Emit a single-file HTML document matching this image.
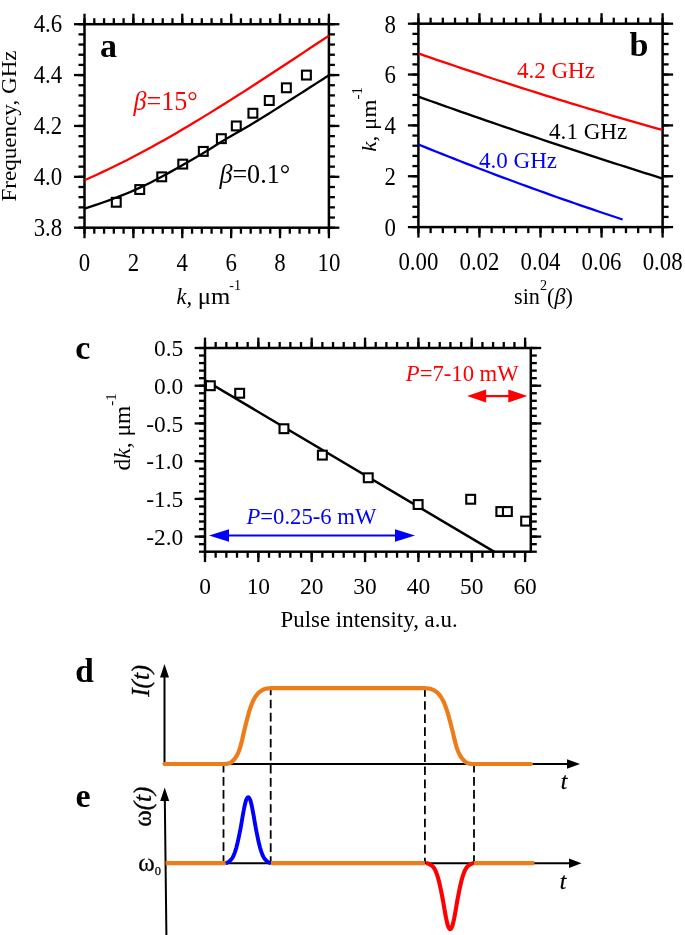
<!DOCTYPE html>
<html><head><meta charset="utf-8"><title>Figure</title>
<style>
html,body{margin:0;padding:0;background:#fff;}
body{width:685px;height:935px;overflow:hidden;font-family:"Liberation Serif",serif;}
svg{display:block;font-family:"Liberation Serif",serif;will-change:transform;}
</style></head><body>
<svg width="685" height="935" viewBox="0 0 685 935">
<rect width="685" height="935" fill="#fff"/>
<rect x="84.5" y="24.2" width="244.4" height="203.5" fill="none" stroke="#000" stroke-width="2.5"/>
<line x1="84.5" y1="227.7" x2="84.5" y2="233.7" stroke="#000" stroke-width="2.3" />
<line x1="84.5" y1="24.2" x2="84.5" y2="18.2" stroke="#000" stroke-width="2.3" />
<line x1="94.28" y1="227.7" x2="94.28" y2="233.7" stroke="#000" stroke-width="2.3" />
<line x1="94.28" y1="24.2" x2="94.28" y2="18.2" stroke="#000" stroke-width="2.3" />
<line x1="104.05" y1="227.7" x2="104.05" y2="233.7" stroke="#000" stroke-width="2.3" />
<line x1="104.05" y1="24.2" x2="104.05" y2="18.2" stroke="#000" stroke-width="2.3" />
<line x1="113.83" y1="227.7" x2="113.83" y2="233.7" stroke="#000" stroke-width="2.3" />
<line x1="113.83" y1="24.2" x2="113.83" y2="18.2" stroke="#000" stroke-width="2.3" />
<line x1="123.6" y1="227.7" x2="123.6" y2="233.7" stroke="#000" stroke-width="2.3" />
<line x1="123.6" y1="24.2" x2="123.6" y2="18.2" stroke="#000" stroke-width="2.3" />
<line x1="133.38" y1="227.7" x2="133.38" y2="233.7" stroke="#000" stroke-width="2.3" />
<line x1="133.38" y1="24.2" x2="133.38" y2="18.2" stroke="#000" stroke-width="2.3" />
<line x1="143.16" y1="227.7" x2="143.16" y2="233.7" stroke="#000" stroke-width="2.3" />
<line x1="143.16" y1="24.2" x2="143.16" y2="18.2" stroke="#000" stroke-width="2.3" />
<line x1="152.93" y1="227.7" x2="152.93" y2="233.7" stroke="#000" stroke-width="2.3" />
<line x1="152.93" y1="24.2" x2="152.93" y2="18.2" stroke="#000" stroke-width="2.3" />
<line x1="162.71" y1="227.7" x2="162.71" y2="233.7" stroke="#000" stroke-width="2.3" />
<line x1="162.71" y1="24.2" x2="162.71" y2="18.2" stroke="#000" stroke-width="2.3" />
<line x1="172.48" y1="227.7" x2="172.48" y2="233.7" stroke="#000" stroke-width="2.3" />
<line x1="172.48" y1="24.2" x2="172.48" y2="18.2" stroke="#000" stroke-width="2.3" />
<line x1="182.26" y1="227.7" x2="182.26" y2="233.7" stroke="#000" stroke-width="2.3" />
<line x1="182.26" y1="24.2" x2="182.26" y2="18.2" stroke="#000" stroke-width="2.3" />
<line x1="192.04" y1="227.7" x2="192.04" y2="233.7" stroke="#000" stroke-width="2.3" />
<line x1="192.04" y1="24.2" x2="192.04" y2="18.2" stroke="#000" stroke-width="2.3" />
<line x1="201.81" y1="227.7" x2="201.81" y2="233.7" stroke="#000" stroke-width="2.3" />
<line x1="201.81" y1="24.2" x2="201.81" y2="18.2" stroke="#000" stroke-width="2.3" />
<line x1="211.59" y1="227.7" x2="211.59" y2="233.7" stroke="#000" stroke-width="2.3" />
<line x1="211.59" y1="24.2" x2="211.59" y2="18.2" stroke="#000" stroke-width="2.3" />
<line x1="221.36" y1="227.7" x2="221.36" y2="233.7" stroke="#000" stroke-width="2.3" />
<line x1="221.36" y1="24.2" x2="221.36" y2="18.2" stroke="#000" stroke-width="2.3" />
<line x1="231.14" y1="227.7" x2="231.14" y2="233.7" stroke="#000" stroke-width="2.3" />
<line x1="231.14" y1="24.2" x2="231.14" y2="18.2" stroke="#000" stroke-width="2.3" />
<line x1="240.92" y1="227.7" x2="240.92" y2="233.7" stroke="#000" stroke-width="2.3" />
<line x1="240.92" y1="24.2" x2="240.92" y2="18.2" stroke="#000" stroke-width="2.3" />
<line x1="250.69" y1="227.7" x2="250.69" y2="233.7" stroke="#000" stroke-width="2.3" />
<line x1="250.69" y1="24.2" x2="250.69" y2="18.2" stroke="#000" stroke-width="2.3" />
<line x1="260.47" y1="227.7" x2="260.47" y2="233.7" stroke="#000" stroke-width="2.3" />
<line x1="260.47" y1="24.2" x2="260.47" y2="18.2" stroke="#000" stroke-width="2.3" />
<line x1="270.24" y1="227.7" x2="270.24" y2="233.7" stroke="#000" stroke-width="2.3" />
<line x1="270.24" y1="24.2" x2="270.24" y2="18.2" stroke="#000" stroke-width="2.3" />
<line x1="280.02" y1="227.7" x2="280.02" y2="233.7" stroke="#000" stroke-width="2.3" />
<line x1="280.02" y1="24.2" x2="280.02" y2="18.2" stroke="#000" stroke-width="2.3" />
<line x1="289.8" y1="227.7" x2="289.8" y2="233.7" stroke="#000" stroke-width="2.3" />
<line x1="289.8" y1="24.2" x2="289.8" y2="18.2" stroke="#000" stroke-width="2.3" />
<line x1="299.57" y1="227.7" x2="299.57" y2="233.7" stroke="#000" stroke-width="2.3" />
<line x1="299.57" y1="24.2" x2="299.57" y2="18.2" stroke="#000" stroke-width="2.3" />
<line x1="309.35" y1="227.7" x2="309.35" y2="233.7" stroke="#000" stroke-width="2.3" />
<line x1="309.35" y1="24.2" x2="309.35" y2="18.2" stroke="#000" stroke-width="2.3" />
<line x1="319.12" y1="227.7" x2="319.12" y2="233.7" stroke="#000" stroke-width="2.3" />
<line x1="319.12" y1="24.2" x2="319.12" y2="18.2" stroke="#000" stroke-width="2.3" />
<line x1="328.9" y1="227.7" x2="328.9" y2="233.7" stroke="#000" stroke-width="2.3" />
<line x1="328.9" y1="24.2" x2="328.9" y2="18.2" stroke="#000" stroke-width="2.3" />
<line x1="84.5" y1="227.7" x2="84.5" y2="238.2" stroke="#000" stroke-width="2.3" />
<line x1="84.5" y1="24.2" x2="84.5" y2="13.7" stroke="#000" stroke-width="2.3" />
<text transform="translate(84.5 270.9) scale(0.943 1)" font-size="24.2" text-anchor="middle" fill="#000" >0</text>
<line x1="133.38" y1="227.7" x2="133.38" y2="238.2" stroke="#000" stroke-width="2.3" />
<line x1="133.38" y1="24.2" x2="133.38" y2="13.7" stroke="#000" stroke-width="2.3" />
<text transform="translate(133.38 270.9) scale(0.943 1)" font-size="24.2" text-anchor="middle" fill="#000" >2</text>
<line x1="182.26" y1="227.7" x2="182.26" y2="238.2" stroke="#000" stroke-width="2.3" />
<line x1="182.26" y1="24.2" x2="182.26" y2="13.7" stroke="#000" stroke-width="2.3" />
<text transform="translate(182.26 270.9) scale(0.943 1)" font-size="24.2" text-anchor="middle" fill="#000" >4</text>
<line x1="231.14" y1="227.7" x2="231.14" y2="238.2" stroke="#000" stroke-width="2.3" />
<line x1="231.14" y1="24.2" x2="231.14" y2="13.7" stroke="#000" stroke-width="2.3" />
<text transform="translate(231.14 270.9) scale(0.943 1)" font-size="24.2" text-anchor="middle" fill="#000" >6</text>
<line x1="280.02" y1="227.7" x2="280.02" y2="238.2" stroke="#000" stroke-width="2.3" />
<line x1="280.02" y1="24.2" x2="280.02" y2="13.7" stroke="#000" stroke-width="2.3" />
<text transform="translate(280.02 270.9) scale(0.943 1)" font-size="24.2" text-anchor="middle" fill="#000" >8</text>
<line x1="328.9" y1="227.7" x2="328.9" y2="238.2" stroke="#000" stroke-width="2.3" />
<line x1="328.9" y1="24.2" x2="328.9" y2="13.7" stroke="#000" stroke-width="2.3" />
<text transform="translate(328.9 270.9) scale(0.943 1)" font-size="24.2" text-anchor="middle" fill="#000" >10</text>
<line x1="84.5" y1="227.7" x2="78.5" y2="227.7" stroke="#000" stroke-width="2.3" />
<line x1="328.9" y1="227.7" x2="334.9" y2="227.7" stroke="#000" stroke-width="2.3" />
<line x1="84.5" y1="217.52" x2="78.5" y2="217.52" stroke="#000" stroke-width="2.3" />
<line x1="328.9" y1="217.52" x2="334.9" y2="217.52" stroke="#000" stroke-width="2.3" />
<line x1="84.5" y1="207.35" x2="78.5" y2="207.35" stroke="#000" stroke-width="2.3" />
<line x1="328.9" y1="207.35" x2="334.9" y2="207.35" stroke="#000" stroke-width="2.3" />
<line x1="84.5" y1="197.17" x2="78.5" y2="197.17" stroke="#000" stroke-width="2.3" />
<line x1="328.9" y1="197.17" x2="334.9" y2="197.17" stroke="#000" stroke-width="2.3" />
<line x1="84.5" y1="187" x2="78.5" y2="187" stroke="#000" stroke-width="2.3" />
<line x1="328.9" y1="187" x2="334.9" y2="187" stroke="#000" stroke-width="2.3" />
<line x1="84.5" y1="176.82" x2="78.5" y2="176.82" stroke="#000" stroke-width="2.3" />
<line x1="328.9" y1="176.82" x2="334.9" y2="176.82" stroke="#000" stroke-width="2.3" />
<line x1="84.5" y1="166.65" x2="78.5" y2="166.65" stroke="#000" stroke-width="2.3" />
<line x1="328.9" y1="166.65" x2="334.9" y2="166.65" stroke="#000" stroke-width="2.3" />
<line x1="84.5" y1="156.47" x2="78.5" y2="156.47" stroke="#000" stroke-width="2.3" />
<line x1="328.9" y1="156.47" x2="334.9" y2="156.47" stroke="#000" stroke-width="2.3" />
<line x1="84.5" y1="146.3" x2="78.5" y2="146.3" stroke="#000" stroke-width="2.3" />
<line x1="328.9" y1="146.3" x2="334.9" y2="146.3" stroke="#000" stroke-width="2.3" />
<line x1="84.5" y1="136.12" x2="78.5" y2="136.12" stroke="#000" stroke-width="2.3" />
<line x1="328.9" y1="136.12" x2="334.9" y2="136.12" stroke="#000" stroke-width="2.3" />
<line x1="84.5" y1="125.95" x2="78.5" y2="125.95" stroke="#000" stroke-width="2.3" />
<line x1="328.9" y1="125.95" x2="334.9" y2="125.95" stroke="#000" stroke-width="2.3" />
<line x1="84.5" y1="115.77" x2="78.5" y2="115.77" stroke="#000" stroke-width="2.3" />
<line x1="328.9" y1="115.77" x2="334.9" y2="115.77" stroke="#000" stroke-width="2.3" />
<line x1="84.5" y1="105.6" x2="78.5" y2="105.6" stroke="#000" stroke-width="2.3" />
<line x1="328.9" y1="105.6" x2="334.9" y2="105.6" stroke="#000" stroke-width="2.3" />
<line x1="84.5" y1="95.42" x2="78.5" y2="95.42" stroke="#000" stroke-width="2.3" />
<line x1="328.9" y1="95.42" x2="334.9" y2="95.42" stroke="#000" stroke-width="2.3" />
<line x1="84.5" y1="85.25" x2="78.5" y2="85.25" stroke="#000" stroke-width="2.3" />
<line x1="328.9" y1="85.25" x2="334.9" y2="85.25" stroke="#000" stroke-width="2.3" />
<line x1="84.5" y1="75.08" x2="78.5" y2="75.08" stroke="#000" stroke-width="2.3" />
<line x1="328.9" y1="75.08" x2="334.9" y2="75.08" stroke="#000" stroke-width="2.3" />
<line x1="84.5" y1="64.9" x2="78.5" y2="64.9" stroke="#000" stroke-width="2.3" />
<line x1="328.9" y1="64.9" x2="334.9" y2="64.9" stroke="#000" stroke-width="2.3" />
<line x1="84.5" y1="54.73" x2="78.5" y2="54.73" stroke="#000" stroke-width="2.3" />
<line x1="328.9" y1="54.73" x2="334.9" y2="54.73" stroke="#000" stroke-width="2.3" />
<line x1="84.5" y1="44.55" x2="78.5" y2="44.55" stroke="#000" stroke-width="2.3" />
<line x1="328.9" y1="44.55" x2="334.9" y2="44.55" stroke="#000" stroke-width="2.3" />
<line x1="84.5" y1="34.38" x2="78.5" y2="34.38" stroke="#000" stroke-width="2.3" />
<line x1="328.9" y1="34.38" x2="334.9" y2="34.38" stroke="#000" stroke-width="2.3" />
<line x1="84.5" y1="24.2" x2="78.5" y2="24.2" stroke="#000" stroke-width="2.3" />
<line x1="328.9" y1="24.2" x2="334.9" y2="24.2" stroke="#000" stroke-width="2.3" />
<line x1="84.5" y1="227.7" x2="74" y2="227.7" stroke="#000" stroke-width="2.3" />
<line x1="328.9" y1="227.7" x2="339.4" y2="227.7" stroke="#000" stroke-width="2.3" />
<text transform="translate(62.2 235.5) scale(0.943 1)" font-size="24.2" text-anchor="end" fill="#000" >3.8</text>
<line x1="84.5" y1="176.82" x2="74" y2="176.82" stroke="#000" stroke-width="2.3" />
<line x1="328.9" y1="176.82" x2="339.4" y2="176.82" stroke="#000" stroke-width="2.3" />
<text transform="translate(62.2 184.62) scale(0.943 1)" font-size="24.2" text-anchor="end" fill="#000" >4.0</text>
<line x1="84.5" y1="125.95" x2="74" y2="125.95" stroke="#000" stroke-width="2.3" />
<line x1="328.9" y1="125.95" x2="339.4" y2="125.95" stroke="#000" stroke-width="2.3" />
<text transform="translate(62.2 133.75) scale(0.943 1)" font-size="24.2" text-anchor="end" fill="#000" >4.2</text>
<line x1="84.5" y1="75.07" x2="74" y2="75.07" stroke="#000" stroke-width="2.3" />
<line x1="328.9" y1="75.07" x2="339.4" y2="75.07" stroke="#000" stroke-width="2.3" />
<text transform="translate(62.2 82.87) scale(0.943 1)" font-size="24.2" text-anchor="end" fill="#000" >4.4</text>
<line x1="84.5" y1="24.2" x2="74" y2="24.2" stroke="#000" stroke-width="2.3" />
<line x1="328.9" y1="24.2" x2="339.4" y2="24.2" stroke="#000" stroke-width="2.3" />
<text transform="translate(62.2 32) scale(0.943 1)" font-size="24.2" text-anchor="end" fill="#000" >4.6</text>
<clipPath id="ca"><rect x="84.5" y="24.2" width="244.4" height="203.5"/></clipPath>
<path d="M84.5 180.18 L90.61 177.5 L96.72 174.74 L102.83 171.91 L108.94 169.01 L115.05 166.04 L121.16 163.01 L127.27 159.92 L133.38 156.76 L139.49 153.55 L145.6 150.28 L151.71 146.95 L157.82 143.58 L163.93 140.15 L170.04 136.67 L176.15 133.15 L182.26 129.58 L188.37 125.97 L194.48 122.31 L200.59 118.62 L206.7 114.89 L212.81 111.13 L218.92 107.33 L225.03 103.51 L231.14 99.65 L237.25 95.77 L243.36 91.86 L249.47 87.93 L255.58 83.98 L261.69 80.02 L267.8 76.03 L273.91 72.03 L280.02 68.02 L286.13 63.99 L292.24 59.96 L298.35 55.92 L304.46 51.87 L310.57 47.83 L316.68 43.78 L322.79 39.73 L328.9 35.69" fill="none" stroke="#ff0000" stroke-width="2.3" clip-path="url(#ca)"/>
<path d="M84.5 208.57 L90.61 206.64 L96.72 204.62 L102.83 202.5 L108.94 200.3 L115.05 198.02 L121.16 195.66 L127.27 193.2 L133.38 190.61 L139.49 187.89 L145.6 185 L151.71 181.94 L157.82 178.77 L163.93 175.52 L170.04 172.13 L176.15 168.65 L182.26 165.15 L188.37 161.67 L194.48 158.17 L200.59 154.62 L206.7 150.95 L212.81 147.15 L218.92 143.34 L225.03 139.64 L231.14 136 L237.25 132.4 L243.36 128.89 L249.47 125.38 L255.58 121.76 L261.69 118.03 L267.8 114.23 L273.91 110.38 L280.02 106.52 L286.13 102.65 L292.24 98.78 L298.35 94.89 L304.46 90.99 L310.57 87.07 L316.68 83.13 L322.79 79.18 L328.9 75.2" fill="none" stroke="#000" stroke-width="2.3" clip-path="url(#ca)"/>
<rect x="111.85" y="197.84" width="8.85" height="8.85" fill="none" stroke="#000" stroke-width="2.1"/>
<rect x="135.31" y="185.12" width="8.85" height="8.85" fill="none" stroke="#000" stroke-width="2.1"/>
<rect x="157.31" y="172.4" width="8.85" height="8.85" fill="none" stroke="#000" stroke-width="2.1"/>
<rect x="178.32" y="159.68" width="8.85" height="8.85" fill="none" stroke="#000" stroke-width="2.1"/>
<rect x="198.85" y="146.96" width="8.85" height="8.85" fill="none" stroke="#000" stroke-width="2.1"/>
<rect x="216.94" y="134.24" width="8.85" height="8.85" fill="none" stroke="#000" stroke-width="2.1"/>
<rect x="231.85" y="121.52" width="8.85" height="8.85" fill="none" stroke="#000" stroke-width="2.1"/>
<rect x="248.47" y="108.81" width="8.85" height="8.85" fill="none" stroke="#000" stroke-width="2.1"/>
<rect x="264.84" y="96.09" width="8.85" height="8.85" fill="none" stroke="#000" stroke-width="2.1"/>
<rect x="281.95" y="83.37" width="8.85" height="8.85" fill="none" stroke="#000" stroke-width="2.1"/>
<rect x="301.99" y="70.65" width="8.85" height="8.85" fill="none" stroke="#000" stroke-width="2.1"/>
<text transform="translate(100 57.2)" font-size="34" text-anchor="start" fill="#000" font-weight="bold" >a</text>
<text transform="translate(133.6 110.2) scale(0.945 1)" font-size="27.6" text-anchor="start" fill="#ff0000" ><tspan font-style="italic">&#946;</tspan>=15&#176;</text>
<text transform="translate(219.4 183.2) scale(0.945 1)" font-size="27.6" text-anchor="start" fill="#000" ><tspan font-style="italic">&#946;</tspan>=0.1&#176;</text>
<text transform="translate(176.6 303.8) scale(0.945 1)" font-size="23.6" text-anchor="start" fill="#000" font-style="italic">k,</text>
<text transform="translate(197.7 303.8) scale(1.04 1)" font-size="23.8" text-anchor="start" fill="#000" >&#956;m</text>
<text transform="translate(229.3 289.8) scale(0.945 1)" font-size="15" text-anchor="start" fill="#000" >-1</text>
<text transform="translate(15.9 126) scale(0.935 1) rotate(-90)" font-size="23.1" text-anchor="middle" fill="#000" >Frequency, GHz</text>
<rect x="418.4" y="23.7" width="244.2" height="203.4" fill="none" stroke="#000" stroke-width="2.5"/>
<line x1="418.4" y1="227.1" x2="418.4" y2="233.1" stroke="#000" stroke-width="2.3" />
<line x1="418.4" y1="23.7" x2="418.4" y2="17.7" stroke="#000" stroke-width="2.3" />
<line x1="430.61" y1="227.1" x2="430.61" y2="233.1" stroke="#000" stroke-width="2.3" />
<line x1="430.61" y1="23.7" x2="430.61" y2="17.7" stroke="#000" stroke-width="2.3" />
<line x1="442.82" y1="227.1" x2="442.82" y2="233.1" stroke="#000" stroke-width="2.3" />
<line x1="442.82" y1="23.7" x2="442.82" y2="17.7" stroke="#000" stroke-width="2.3" />
<line x1="455.03" y1="227.1" x2="455.03" y2="233.1" stroke="#000" stroke-width="2.3" />
<line x1="455.03" y1="23.7" x2="455.03" y2="17.7" stroke="#000" stroke-width="2.3" />
<line x1="467.24" y1="227.1" x2="467.24" y2="233.1" stroke="#000" stroke-width="2.3" />
<line x1="467.24" y1="23.7" x2="467.24" y2="17.7" stroke="#000" stroke-width="2.3" />
<line x1="479.45" y1="227.1" x2="479.45" y2="233.1" stroke="#000" stroke-width="2.3" />
<line x1="479.45" y1="23.7" x2="479.45" y2="17.7" stroke="#000" stroke-width="2.3" />
<line x1="491.66" y1="227.1" x2="491.66" y2="233.1" stroke="#000" stroke-width="2.3" />
<line x1="491.66" y1="23.7" x2="491.66" y2="17.7" stroke="#000" stroke-width="2.3" />
<line x1="503.87" y1="227.1" x2="503.87" y2="233.1" stroke="#000" stroke-width="2.3" />
<line x1="503.87" y1="23.7" x2="503.87" y2="17.7" stroke="#000" stroke-width="2.3" />
<line x1="516.08" y1="227.1" x2="516.08" y2="233.1" stroke="#000" stroke-width="2.3" />
<line x1="516.08" y1="23.7" x2="516.08" y2="17.7" stroke="#000" stroke-width="2.3" />
<line x1="528.29" y1="227.1" x2="528.29" y2="233.1" stroke="#000" stroke-width="2.3" />
<line x1="528.29" y1="23.7" x2="528.29" y2="17.7" stroke="#000" stroke-width="2.3" />
<line x1="540.5" y1="227.1" x2="540.5" y2="233.1" stroke="#000" stroke-width="2.3" />
<line x1="540.5" y1="23.7" x2="540.5" y2="17.7" stroke="#000" stroke-width="2.3" />
<line x1="552.71" y1="227.1" x2="552.71" y2="233.1" stroke="#000" stroke-width="2.3" />
<line x1="552.71" y1="23.7" x2="552.71" y2="17.7" stroke="#000" stroke-width="2.3" />
<line x1="564.92" y1="227.1" x2="564.92" y2="233.1" stroke="#000" stroke-width="2.3" />
<line x1="564.92" y1="23.7" x2="564.92" y2="17.7" stroke="#000" stroke-width="2.3" />
<line x1="577.13" y1="227.1" x2="577.13" y2="233.1" stroke="#000" stroke-width="2.3" />
<line x1="577.13" y1="23.7" x2="577.13" y2="17.7" stroke="#000" stroke-width="2.3" />
<line x1="589.34" y1="227.1" x2="589.34" y2="233.1" stroke="#000" stroke-width="2.3" />
<line x1="589.34" y1="23.7" x2="589.34" y2="17.7" stroke="#000" stroke-width="2.3" />
<line x1="601.55" y1="227.1" x2="601.55" y2="233.1" stroke="#000" stroke-width="2.3" />
<line x1="601.55" y1="23.7" x2="601.55" y2="17.7" stroke="#000" stroke-width="2.3" />
<line x1="613.76" y1="227.1" x2="613.76" y2="233.1" stroke="#000" stroke-width="2.3" />
<line x1="613.76" y1="23.7" x2="613.76" y2="17.7" stroke="#000" stroke-width="2.3" />
<line x1="625.97" y1="227.1" x2="625.97" y2="233.1" stroke="#000" stroke-width="2.3" />
<line x1="625.97" y1="23.7" x2="625.97" y2="17.7" stroke="#000" stroke-width="2.3" />
<line x1="638.18" y1="227.1" x2="638.18" y2="233.1" stroke="#000" stroke-width="2.3" />
<line x1="638.18" y1="23.7" x2="638.18" y2="17.7" stroke="#000" stroke-width="2.3" />
<line x1="650.39" y1="227.1" x2="650.39" y2="233.1" stroke="#000" stroke-width="2.3" />
<line x1="650.39" y1="23.7" x2="650.39" y2="17.7" stroke="#000" stroke-width="2.3" />
<line x1="662.6" y1="227.1" x2="662.6" y2="233.1" stroke="#000" stroke-width="2.3" />
<line x1="662.6" y1="23.7" x2="662.6" y2="17.7" stroke="#000" stroke-width="2.3" />
<line x1="418.4" y1="227.1" x2="418.4" y2="237.6" stroke="#000" stroke-width="2.3" />
<line x1="418.4" y1="23.7" x2="418.4" y2="13.2" stroke="#000" stroke-width="2.3" />
<text transform="translate(418.4 269.6) scale(0.943 1)" font-size="24.2" text-anchor="middle" fill="#000" >0.00</text>
<line x1="479.45" y1="227.1" x2="479.45" y2="237.6" stroke="#000" stroke-width="2.3" />
<line x1="479.45" y1="23.7" x2="479.45" y2="13.2" stroke="#000" stroke-width="2.3" />
<text transform="translate(479.45 269.6) scale(0.943 1)" font-size="24.2" text-anchor="middle" fill="#000" >0.02</text>
<line x1="540.5" y1="227.1" x2="540.5" y2="237.6" stroke="#000" stroke-width="2.3" />
<line x1="540.5" y1="23.7" x2="540.5" y2="13.2" stroke="#000" stroke-width="2.3" />
<text transform="translate(540.5 269.6) scale(0.943 1)" font-size="24.2" text-anchor="middle" fill="#000" >0.04</text>
<line x1="601.55" y1="227.1" x2="601.55" y2="237.6" stroke="#000" stroke-width="2.3" />
<line x1="601.55" y1="23.7" x2="601.55" y2="13.2" stroke="#000" stroke-width="2.3" />
<text transform="translate(601.55 269.6) scale(0.943 1)" font-size="24.2" text-anchor="middle" fill="#000" >0.06</text>
<line x1="662.6" y1="227.1" x2="662.6" y2="237.6" stroke="#000" stroke-width="2.3" />
<line x1="662.6" y1="23.7" x2="662.6" y2="13.2" stroke="#000" stroke-width="2.3" />
<text transform="translate(662.6 269.6) scale(0.943 1)" font-size="24.2" text-anchor="middle" fill="#000" >0.08</text>
<line x1="418.4" y1="227.1" x2="412.4" y2="227.1" stroke="#000" stroke-width="2.3" />
<line x1="662.6" y1="227.1" x2="668.6" y2="227.1" stroke="#000" stroke-width="2.3" />
<line x1="418.4" y1="216.93" x2="412.4" y2="216.93" stroke="#000" stroke-width="2.3" />
<line x1="662.6" y1="216.93" x2="668.6" y2="216.93" stroke="#000" stroke-width="2.3" />
<line x1="418.4" y1="206.76" x2="412.4" y2="206.76" stroke="#000" stroke-width="2.3" />
<line x1="662.6" y1="206.76" x2="668.6" y2="206.76" stroke="#000" stroke-width="2.3" />
<line x1="418.4" y1="196.59" x2="412.4" y2="196.59" stroke="#000" stroke-width="2.3" />
<line x1="662.6" y1="196.59" x2="668.6" y2="196.59" stroke="#000" stroke-width="2.3" />
<line x1="418.4" y1="186.42" x2="412.4" y2="186.42" stroke="#000" stroke-width="2.3" />
<line x1="662.6" y1="186.42" x2="668.6" y2="186.42" stroke="#000" stroke-width="2.3" />
<line x1="418.4" y1="176.25" x2="412.4" y2="176.25" stroke="#000" stroke-width="2.3" />
<line x1="662.6" y1="176.25" x2="668.6" y2="176.25" stroke="#000" stroke-width="2.3" />
<line x1="418.4" y1="166.08" x2="412.4" y2="166.08" stroke="#000" stroke-width="2.3" />
<line x1="662.6" y1="166.08" x2="668.6" y2="166.08" stroke="#000" stroke-width="2.3" />
<line x1="418.4" y1="155.91" x2="412.4" y2="155.91" stroke="#000" stroke-width="2.3" />
<line x1="662.6" y1="155.91" x2="668.6" y2="155.91" stroke="#000" stroke-width="2.3" />
<line x1="418.4" y1="145.74" x2="412.4" y2="145.74" stroke="#000" stroke-width="2.3" />
<line x1="662.6" y1="145.74" x2="668.6" y2="145.74" stroke="#000" stroke-width="2.3" />
<line x1="418.4" y1="135.57" x2="412.4" y2="135.57" stroke="#000" stroke-width="2.3" />
<line x1="662.6" y1="135.57" x2="668.6" y2="135.57" stroke="#000" stroke-width="2.3" />
<line x1="418.4" y1="125.4" x2="412.4" y2="125.4" stroke="#000" stroke-width="2.3" />
<line x1="662.6" y1="125.4" x2="668.6" y2="125.4" stroke="#000" stroke-width="2.3" />
<line x1="418.4" y1="115.23" x2="412.4" y2="115.23" stroke="#000" stroke-width="2.3" />
<line x1="662.6" y1="115.23" x2="668.6" y2="115.23" stroke="#000" stroke-width="2.3" />
<line x1="418.4" y1="105.06" x2="412.4" y2="105.06" stroke="#000" stroke-width="2.3" />
<line x1="662.6" y1="105.06" x2="668.6" y2="105.06" stroke="#000" stroke-width="2.3" />
<line x1="418.4" y1="94.89" x2="412.4" y2="94.89" stroke="#000" stroke-width="2.3" />
<line x1="662.6" y1="94.89" x2="668.6" y2="94.89" stroke="#000" stroke-width="2.3" />
<line x1="418.4" y1="84.72" x2="412.4" y2="84.72" stroke="#000" stroke-width="2.3" />
<line x1="662.6" y1="84.72" x2="668.6" y2="84.72" stroke="#000" stroke-width="2.3" />
<line x1="418.4" y1="74.55" x2="412.4" y2="74.55" stroke="#000" stroke-width="2.3" />
<line x1="662.6" y1="74.55" x2="668.6" y2="74.55" stroke="#000" stroke-width="2.3" />
<line x1="418.4" y1="64.38" x2="412.4" y2="64.38" stroke="#000" stroke-width="2.3" />
<line x1="662.6" y1="64.38" x2="668.6" y2="64.38" stroke="#000" stroke-width="2.3" />
<line x1="418.4" y1="54.21" x2="412.4" y2="54.21" stroke="#000" stroke-width="2.3" />
<line x1="662.6" y1="54.21" x2="668.6" y2="54.21" stroke="#000" stroke-width="2.3" />
<line x1="418.4" y1="44.04" x2="412.4" y2="44.04" stroke="#000" stroke-width="2.3" />
<line x1="662.6" y1="44.04" x2="668.6" y2="44.04" stroke="#000" stroke-width="2.3" />
<line x1="418.4" y1="33.87" x2="412.4" y2="33.87" stroke="#000" stroke-width="2.3" />
<line x1="662.6" y1="33.87" x2="668.6" y2="33.87" stroke="#000" stroke-width="2.3" />
<line x1="418.4" y1="23.7" x2="412.4" y2="23.7" stroke="#000" stroke-width="2.3" />
<line x1="662.6" y1="23.7" x2="668.6" y2="23.7" stroke="#000" stroke-width="2.3" />
<line x1="418.4" y1="227.1" x2="407.9" y2="227.1" stroke="#000" stroke-width="2.3" />
<line x1="662.6" y1="227.1" x2="673.1" y2="227.1" stroke="#000" stroke-width="2.3" />
<text transform="translate(395.8 235.9) scale(0.943 1)" font-size="24.2" text-anchor="end" fill="#000" >0</text>
<line x1="418.4" y1="176.25" x2="407.9" y2="176.25" stroke="#000" stroke-width="2.3" />
<line x1="662.6" y1="176.25" x2="673.1" y2="176.25" stroke="#000" stroke-width="2.3" />
<text transform="translate(395.8 185.05) scale(0.943 1)" font-size="24.2" text-anchor="end" fill="#000" >2</text>
<line x1="418.4" y1="125.4" x2="407.9" y2="125.4" stroke="#000" stroke-width="2.3" />
<line x1="662.6" y1="125.4" x2="673.1" y2="125.4" stroke="#000" stroke-width="2.3" />
<text transform="translate(395.8 134.2) scale(0.943 1)" font-size="24.2" text-anchor="end" fill="#000" >4</text>
<line x1="418.4" y1="74.55" x2="407.9" y2="74.55" stroke="#000" stroke-width="2.3" />
<line x1="662.6" y1="74.55" x2="673.1" y2="74.55" stroke="#000" stroke-width="2.3" />
<text transform="translate(395.8 83.35) scale(0.943 1)" font-size="24.2" text-anchor="end" fill="#000" >6</text>
<line x1="418.4" y1="23.7" x2="407.9" y2="23.7" stroke="#000" stroke-width="2.3" />
<line x1="662.6" y1="23.7" x2="673.1" y2="23.7" stroke="#000" stroke-width="2.3" />
<text transform="translate(395.8 32.5) scale(0.943 1)" font-size="24.2" text-anchor="end" fill="#000" >8</text>
<clipPath id="cb"><rect x="418.4" y="23.7" width="244.2" height="203.4"/></clipPath>
<path d="M418.4 53.45 L424.5 55.57 L430.61 57.68 L436.71 59.79 L442.82 61.88 L448.92 63.96 L455.03 66.03 L461.13 68.09 L467.24 70.14 L473.35 72.17 L479.45 74.2 L485.55 76.22 L491.66 78.22 L497.76 80.22 L503.87 82.2 L509.98 84.17 L516.08 86.13 L522.18 88.08 L528.29 90.02 L534.39 91.95 L540.5 93.87 L546.61 95.78 L552.71 97.68 L558.82 99.56 L564.92 101.44 L571.02 103.3 L577.13 105.16 L583.24 107 L589.34 108.83 L595.44 110.65 L601.55 112.47 L607.65 114.26 L613.76 116.05 L619.87 117.83 L625.97 119.6 L632.08 121.36 L638.18 123.1 L644.28 124.84 L650.39 126.56 L656.5 128.27 L662.6 129.98" fill="none" stroke="#ff0000" stroke-width="2.3" clip-path="url(#cb)"/>
<path d="M418.4 96.67 L424.5 98.85 L430.61 101.03 L436.71 103.2 L442.82 105.36 L448.92 107.52 L455.03 109.66 L461.13 111.8 L467.24 113.94 L473.35 116.07 L479.45 118.19 L485.55 120.3 L491.66 122.4 L497.76 124.5 L503.87 126.6 L509.98 128.68 L516.08 130.76 L522.18 132.83 L528.29 134.89 L534.39 136.95 L540.5 139 L546.61 141.05 L552.71 143.08 L558.82 145.11 L564.92 147.13 L571.02 149.15 L577.13 151.16 L583.24 153.16 L589.34 155.15 L595.44 157.14 L601.55 159.12 L607.65 161.09 L613.76 163.06 L619.87 165.02 L625.97 166.97 L632.08 168.92 L638.18 170.85 L644.28 172.79 L650.39 174.71 L656.5 176.63 L662.6 178.54" fill="none" stroke="#000" stroke-width="2.3" clip-path="url(#cb)"/>
<path d="M418.4 144.47 L424.41 146.9 L430.41 149.33 L436.42 151.73 L442.42 154.13 L448.43 156.51 L454.44 158.88 L460.44 161.23 L466.45 163.57 L472.46 165.89 L478.46 168.2 L484.47 170.5 L490.47 172.78 L496.48 175.05 L502.49 177.3 L508.49 179.54 L514.5 181.77 L520.51 183.98 L526.51 186.18 L532.52 188.37 L538.52 190.54 L544.53 192.7 L550.54 194.84 L556.54 196.97 L562.55 199.09 L568.56 201.19 L574.56 203.27 L580.57 205.35 L586.57 207.41 L592.58 209.45 L598.59 211.48 L604.59 213.5 L610.6 215.51 L616.61 217.5 L622.61 219.47" fill="none" stroke="#0000ff" stroke-width="2.3" />
<text transform="translate(629.5 56)" font-size="34" text-anchor="start" fill="#000" font-weight="bold" >b</text>
<text transform="translate(516.9 78.2) scale(0.965 1)" font-size="23.9" text-anchor="start" fill="#ff0000" >4.2 GHz</text>
<text transform="translate(549.1 139.3) scale(0.965 1)" font-size="23.9" text-anchor="start" fill="#000" >4.1 GHz</text>
<text transform="translate(479 167.6) scale(0.965 1)" font-size="23.9" text-anchor="start" fill="#0000ff" >4.0 GHz</text>
<text transform="translate(514 303.8) scale(0.945 1)" font-size="23.5" text-anchor="start" fill="#000" >sin<tspan dy="-14.3" font-size="15">2</tspan><tspan dy="14.3">(</tspan><tspan font-style="italic">&#946;</tspan>)</text>
<text transform="translate(375.6 119.4) scale(0.925 1) rotate(-90)" font-size="23.1" text-anchor="middle" fill="#000" ><tspan font-style="italic">k,</tspan> &#956;m<tspan dy="-14.3" font-size="15">-1</tspan></text>
<rect x="205" y="348" width="325.8" height="203.7" fill="none" stroke="#000" stroke-width="2.5"/>
<line x1="205" y1="551.7" x2="205" y2="557.7" stroke="#000" stroke-width="2.3" />
<line x1="205" y1="348" x2="205" y2="342" stroke="#000" stroke-width="2.3" />
<line x1="215.67" y1="551.7" x2="215.67" y2="557.7" stroke="#000" stroke-width="2.3" />
<line x1="215.67" y1="348" x2="215.67" y2="342" stroke="#000" stroke-width="2.3" />
<line x1="226.34" y1="551.7" x2="226.34" y2="557.7" stroke="#000" stroke-width="2.3" />
<line x1="226.34" y1="348" x2="226.34" y2="342" stroke="#000" stroke-width="2.3" />
<line x1="237.01" y1="551.7" x2="237.01" y2="557.7" stroke="#000" stroke-width="2.3" />
<line x1="237.01" y1="348" x2="237.01" y2="342" stroke="#000" stroke-width="2.3" />
<line x1="247.68" y1="551.7" x2="247.68" y2="557.7" stroke="#000" stroke-width="2.3" />
<line x1="247.68" y1="348" x2="247.68" y2="342" stroke="#000" stroke-width="2.3" />
<line x1="258.35" y1="551.7" x2="258.35" y2="557.7" stroke="#000" stroke-width="2.3" />
<line x1="258.35" y1="348" x2="258.35" y2="342" stroke="#000" stroke-width="2.3" />
<line x1="269.02" y1="551.7" x2="269.02" y2="557.7" stroke="#000" stroke-width="2.3" />
<line x1="269.02" y1="348" x2="269.02" y2="342" stroke="#000" stroke-width="2.3" />
<line x1="279.69" y1="551.7" x2="279.69" y2="557.7" stroke="#000" stroke-width="2.3" />
<line x1="279.69" y1="348" x2="279.69" y2="342" stroke="#000" stroke-width="2.3" />
<line x1="290.36" y1="551.7" x2="290.36" y2="557.7" stroke="#000" stroke-width="2.3" />
<line x1="290.36" y1="348" x2="290.36" y2="342" stroke="#000" stroke-width="2.3" />
<line x1="301.03" y1="551.7" x2="301.03" y2="557.7" stroke="#000" stroke-width="2.3" />
<line x1="301.03" y1="348" x2="301.03" y2="342" stroke="#000" stroke-width="2.3" />
<line x1="311.7" y1="551.7" x2="311.7" y2="557.7" stroke="#000" stroke-width="2.3" />
<line x1="311.7" y1="348" x2="311.7" y2="342" stroke="#000" stroke-width="2.3" />
<line x1="322.37" y1="551.7" x2="322.37" y2="557.7" stroke="#000" stroke-width="2.3" />
<line x1="322.37" y1="348" x2="322.37" y2="342" stroke="#000" stroke-width="2.3" />
<line x1="333.04" y1="551.7" x2="333.04" y2="557.7" stroke="#000" stroke-width="2.3" />
<line x1="333.04" y1="348" x2="333.04" y2="342" stroke="#000" stroke-width="2.3" />
<line x1="343.71" y1="551.7" x2="343.71" y2="557.7" stroke="#000" stroke-width="2.3" />
<line x1="343.71" y1="348" x2="343.71" y2="342" stroke="#000" stroke-width="2.3" />
<line x1="354.38" y1="551.7" x2="354.38" y2="557.7" stroke="#000" stroke-width="2.3" />
<line x1="354.38" y1="348" x2="354.38" y2="342" stroke="#000" stroke-width="2.3" />
<line x1="365.05" y1="551.7" x2="365.05" y2="557.7" stroke="#000" stroke-width="2.3" />
<line x1="365.05" y1="348" x2="365.05" y2="342" stroke="#000" stroke-width="2.3" />
<line x1="375.72" y1="551.7" x2="375.72" y2="557.7" stroke="#000" stroke-width="2.3" />
<line x1="375.72" y1="348" x2="375.72" y2="342" stroke="#000" stroke-width="2.3" />
<line x1="386.39" y1="551.7" x2="386.39" y2="557.7" stroke="#000" stroke-width="2.3" />
<line x1="386.39" y1="348" x2="386.39" y2="342" stroke="#000" stroke-width="2.3" />
<line x1="397.06" y1="551.7" x2="397.06" y2="557.7" stroke="#000" stroke-width="2.3" />
<line x1="397.06" y1="348" x2="397.06" y2="342" stroke="#000" stroke-width="2.3" />
<line x1="407.73" y1="551.7" x2="407.73" y2="557.7" stroke="#000" stroke-width="2.3" />
<line x1="407.73" y1="348" x2="407.73" y2="342" stroke="#000" stroke-width="2.3" />
<line x1="418.4" y1="551.7" x2="418.4" y2="557.7" stroke="#000" stroke-width="2.3" />
<line x1="418.4" y1="348" x2="418.4" y2="342" stroke="#000" stroke-width="2.3" />
<line x1="429.07" y1="551.7" x2="429.07" y2="557.7" stroke="#000" stroke-width="2.3" />
<line x1="429.07" y1="348" x2="429.07" y2="342" stroke="#000" stroke-width="2.3" />
<line x1="439.74" y1="551.7" x2="439.74" y2="557.7" stroke="#000" stroke-width="2.3" />
<line x1="439.74" y1="348" x2="439.74" y2="342" stroke="#000" stroke-width="2.3" />
<line x1="450.41" y1="551.7" x2="450.41" y2="557.7" stroke="#000" stroke-width="2.3" />
<line x1="450.41" y1="348" x2="450.41" y2="342" stroke="#000" stroke-width="2.3" />
<line x1="461.08" y1="551.7" x2="461.08" y2="557.7" stroke="#000" stroke-width="2.3" />
<line x1="461.08" y1="348" x2="461.08" y2="342" stroke="#000" stroke-width="2.3" />
<line x1="471.75" y1="551.7" x2="471.75" y2="557.7" stroke="#000" stroke-width="2.3" />
<line x1="471.75" y1="348" x2="471.75" y2="342" stroke="#000" stroke-width="2.3" />
<line x1="482.42" y1="551.7" x2="482.42" y2="557.7" stroke="#000" stroke-width="2.3" />
<line x1="482.42" y1="348" x2="482.42" y2="342" stroke="#000" stroke-width="2.3" />
<line x1="493.09" y1="551.7" x2="493.09" y2="557.7" stroke="#000" stroke-width="2.3" />
<line x1="493.09" y1="348" x2="493.09" y2="342" stroke="#000" stroke-width="2.3" />
<line x1="503.76" y1="551.7" x2="503.76" y2="557.7" stroke="#000" stroke-width="2.3" />
<line x1="503.76" y1="348" x2="503.76" y2="342" stroke="#000" stroke-width="2.3" />
<line x1="514.43" y1="551.7" x2="514.43" y2="557.7" stroke="#000" stroke-width="2.3" />
<line x1="514.43" y1="348" x2="514.43" y2="342" stroke="#000" stroke-width="2.3" />
<line x1="525.1" y1="551.7" x2="525.1" y2="557.7" stroke="#000" stroke-width="2.3" />
<line x1="525.1" y1="348" x2="525.1" y2="342" stroke="#000" stroke-width="2.3" />
<line x1="205" y1="551.7" x2="205" y2="562.1" stroke="#000" stroke-width="2.3" />
<line x1="205" y1="348" x2="205" y2="337.6" stroke="#000" stroke-width="2.3" />
<text transform="translate(205 593.8) scale(0.975 1)" font-size="24.0" text-anchor="middle" fill="#000" >0</text>
<line x1="258.35" y1="551.7" x2="258.35" y2="562.1" stroke="#000" stroke-width="2.3" />
<line x1="258.35" y1="348" x2="258.35" y2="337.6" stroke="#000" stroke-width="2.3" />
<text transform="translate(258.35 593.8) scale(0.975 1)" font-size="24.0" text-anchor="middle" fill="#000" >10</text>
<line x1="311.7" y1="551.7" x2="311.7" y2="562.1" stroke="#000" stroke-width="2.3" />
<line x1="311.7" y1="348" x2="311.7" y2="337.6" stroke="#000" stroke-width="2.3" />
<text transform="translate(311.7 593.8) scale(0.975 1)" font-size="24.0" text-anchor="middle" fill="#000" >20</text>
<line x1="365.05" y1="551.7" x2="365.05" y2="562.1" stroke="#000" stroke-width="2.3" />
<line x1="365.05" y1="348" x2="365.05" y2="337.6" stroke="#000" stroke-width="2.3" />
<text transform="translate(365.05 593.8) scale(0.975 1)" font-size="24.0" text-anchor="middle" fill="#000" >30</text>
<line x1="418.4" y1="551.7" x2="418.4" y2="562.1" stroke="#000" stroke-width="2.3" />
<line x1="418.4" y1="348" x2="418.4" y2="337.6" stroke="#000" stroke-width="2.3" />
<text transform="translate(418.4 593.8) scale(0.975 1)" font-size="24.0" text-anchor="middle" fill="#000" >40</text>
<line x1="471.75" y1="551.7" x2="471.75" y2="562.1" stroke="#000" stroke-width="2.3" />
<line x1="471.75" y1="348" x2="471.75" y2="337.6" stroke="#000" stroke-width="2.3" />
<text transform="translate(471.75 593.8) scale(0.975 1)" font-size="24.0" text-anchor="middle" fill="#000" >50</text>
<line x1="525.1" y1="551.7" x2="525.1" y2="562.1" stroke="#000" stroke-width="2.3" />
<line x1="525.1" y1="348" x2="525.1" y2="337.6" stroke="#000" stroke-width="2.3" />
<text transform="translate(525.1 593.8) scale(0.975 1)" font-size="24.0" text-anchor="middle" fill="#000" >60</text>
<line x1="205" y1="551.7" x2="199" y2="551.7" stroke="#000" stroke-width="2.3" />
<line x1="530.8" y1="551.7" x2="536.8" y2="551.7" stroke="#000" stroke-width="2.3" />
<line x1="205" y1="544.16" x2="199" y2="544.16" stroke="#000" stroke-width="2.3" />
<line x1="530.8" y1="544.16" x2="536.8" y2="544.16" stroke="#000" stroke-width="2.3" />
<line x1="205" y1="536.61" x2="199" y2="536.61" stroke="#000" stroke-width="2.3" />
<line x1="530.8" y1="536.61" x2="536.8" y2="536.61" stroke="#000" stroke-width="2.3" />
<line x1="205" y1="529.07" x2="199" y2="529.07" stroke="#000" stroke-width="2.3" />
<line x1="530.8" y1="529.07" x2="536.8" y2="529.07" stroke="#000" stroke-width="2.3" />
<line x1="205" y1="521.52" x2="199" y2="521.52" stroke="#000" stroke-width="2.3" />
<line x1="530.8" y1="521.52" x2="536.8" y2="521.52" stroke="#000" stroke-width="2.3" />
<line x1="205" y1="513.98" x2="199" y2="513.98" stroke="#000" stroke-width="2.3" />
<line x1="530.8" y1="513.98" x2="536.8" y2="513.98" stroke="#000" stroke-width="2.3" />
<line x1="205" y1="506.43" x2="199" y2="506.43" stroke="#000" stroke-width="2.3" />
<line x1="530.8" y1="506.43" x2="536.8" y2="506.43" stroke="#000" stroke-width="2.3" />
<line x1="205" y1="498.89" x2="199" y2="498.89" stroke="#000" stroke-width="2.3" />
<line x1="530.8" y1="498.89" x2="536.8" y2="498.89" stroke="#000" stroke-width="2.3" />
<line x1="205" y1="491.34" x2="199" y2="491.34" stroke="#000" stroke-width="2.3" />
<line x1="530.8" y1="491.34" x2="536.8" y2="491.34" stroke="#000" stroke-width="2.3" />
<line x1="205" y1="483.8" x2="199" y2="483.8" stroke="#000" stroke-width="2.3" />
<line x1="530.8" y1="483.8" x2="536.8" y2="483.8" stroke="#000" stroke-width="2.3" />
<line x1="205" y1="476.26" x2="199" y2="476.26" stroke="#000" stroke-width="2.3" />
<line x1="530.8" y1="476.26" x2="536.8" y2="476.26" stroke="#000" stroke-width="2.3" />
<line x1="205" y1="468.71" x2="199" y2="468.71" stroke="#000" stroke-width="2.3" />
<line x1="530.8" y1="468.71" x2="536.8" y2="468.71" stroke="#000" stroke-width="2.3" />
<line x1="205" y1="461.17" x2="199" y2="461.17" stroke="#000" stroke-width="2.3" />
<line x1="530.8" y1="461.17" x2="536.8" y2="461.17" stroke="#000" stroke-width="2.3" />
<line x1="205" y1="453.62" x2="199" y2="453.62" stroke="#000" stroke-width="2.3" />
<line x1="530.8" y1="453.62" x2="536.8" y2="453.62" stroke="#000" stroke-width="2.3" />
<line x1="205" y1="446.08" x2="199" y2="446.08" stroke="#000" stroke-width="2.3" />
<line x1="530.8" y1="446.08" x2="536.8" y2="446.08" stroke="#000" stroke-width="2.3" />
<line x1="205" y1="438.53" x2="199" y2="438.53" stroke="#000" stroke-width="2.3" />
<line x1="530.8" y1="438.53" x2="536.8" y2="438.53" stroke="#000" stroke-width="2.3" />
<line x1="205" y1="430.99" x2="199" y2="430.99" stroke="#000" stroke-width="2.3" />
<line x1="530.8" y1="430.99" x2="536.8" y2="430.99" stroke="#000" stroke-width="2.3" />
<line x1="205" y1="423.44" x2="199" y2="423.44" stroke="#000" stroke-width="2.3" />
<line x1="530.8" y1="423.44" x2="536.8" y2="423.44" stroke="#000" stroke-width="2.3" />
<line x1="205" y1="415.9" x2="199" y2="415.9" stroke="#000" stroke-width="2.3" />
<line x1="530.8" y1="415.9" x2="536.8" y2="415.9" stroke="#000" stroke-width="2.3" />
<line x1="205" y1="408.36" x2="199" y2="408.36" stroke="#000" stroke-width="2.3" />
<line x1="530.8" y1="408.36" x2="536.8" y2="408.36" stroke="#000" stroke-width="2.3" />
<line x1="205" y1="400.81" x2="199" y2="400.81" stroke="#000" stroke-width="2.3" />
<line x1="530.8" y1="400.81" x2="536.8" y2="400.81" stroke="#000" stroke-width="2.3" />
<line x1="205" y1="393.27" x2="199" y2="393.27" stroke="#000" stroke-width="2.3" />
<line x1="530.8" y1="393.27" x2="536.8" y2="393.27" stroke="#000" stroke-width="2.3" />
<line x1="205" y1="385.72" x2="199" y2="385.72" stroke="#000" stroke-width="2.3" />
<line x1="530.8" y1="385.72" x2="536.8" y2="385.72" stroke="#000" stroke-width="2.3" />
<line x1="205" y1="378.18" x2="199" y2="378.18" stroke="#000" stroke-width="2.3" />
<line x1="530.8" y1="378.18" x2="536.8" y2="378.18" stroke="#000" stroke-width="2.3" />
<line x1="205" y1="370.63" x2="199" y2="370.63" stroke="#000" stroke-width="2.3" />
<line x1="530.8" y1="370.63" x2="536.8" y2="370.63" stroke="#000" stroke-width="2.3" />
<line x1="205" y1="363.09" x2="199" y2="363.09" stroke="#000" stroke-width="2.3" />
<line x1="530.8" y1="363.09" x2="536.8" y2="363.09" stroke="#000" stroke-width="2.3" />
<line x1="205" y1="355.54" x2="199" y2="355.54" stroke="#000" stroke-width="2.3" />
<line x1="530.8" y1="355.54" x2="536.8" y2="355.54" stroke="#000" stroke-width="2.3" />
<line x1="205" y1="348" x2="199" y2="348" stroke="#000" stroke-width="2.3" />
<line x1="530.8" y1="348" x2="536.8" y2="348" stroke="#000" stroke-width="2.3" />
<line x1="205" y1="536.61" x2="194.6" y2="536.61" stroke="#000" stroke-width="2.3" />
<line x1="530.8" y1="536.61" x2="541.2" y2="536.61" stroke="#000" stroke-width="2.3" />
<text transform="translate(183.2 544.91) scale(0.975 1)" font-size="24.0" text-anchor="end" fill="#000" >-2.0</text>
<line x1="205" y1="498.89" x2="194.6" y2="498.89" stroke="#000" stroke-width="2.3" />
<line x1="530.8" y1="498.89" x2="541.2" y2="498.89" stroke="#000" stroke-width="2.3" />
<text transform="translate(183.2 507.19) scale(0.975 1)" font-size="24.0" text-anchor="end" fill="#000" >-1.5</text>
<line x1="205" y1="461.17" x2="194.6" y2="461.17" stroke="#000" stroke-width="2.3" />
<line x1="530.8" y1="461.17" x2="541.2" y2="461.17" stroke="#000" stroke-width="2.3" />
<text transform="translate(183.2 469.47) scale(0.975 1)" font-size="24.0" text-anchor="end" fill="#000" >-1.0</text>
<line x1="205" y1="423.44" x2="194.6" y2="423.44" stroke="#000" stroke-width="2.3" />
<line x1="530.8" y1="423.44" x2="541.2" y2="423.44" stroke="#000" stroke-width="2.3" />
<text transform="translate(183.2 431.74) scale(0.975 1)" font-size="24.0" text-anchor="end" fill="#000" >-0.5</text>
<line x1="205" y1="385.72" x2="194.6" y2="385.72" stroke="#000" stroke-width="2.3" />
<line x1="530.8" y1="385.72" x2="541.2" y2="385.72" stroke="#000" stroke-width="2.3" />
<text transform="translate(183.2 394.02) scale(0.975 1)" font-size="24.0" text-anchor="end" fill="#000" >0.0</text>
<line x1="205" y1="348" x2="194.6" y2="348" stroke="#000" stroke-width="2.3" />
<line x1="530.8" y1="348" x2="541.2" y2="348" stroke="#000" stroke-width="2.3" />
<text transform="translate(183.2 356.3) scale(0.975 1)" font-size="24.0" text-anchor="end" fill="#000" >0.5</text>
<clipPath id="cc"><rect x="205" y="348" width="325.8" height="203.7"/></clipPath>
<path d="M205 380.33 L500 555.16" fill="none" stroke="#000" stroke-width="2.5" clip-path="url(#cc)"/>
<rect x="205.91" y="381.3" width="8.85" height="8.85" fill="#fff" stroke="#000" stroke-width="2.1"/>
<rect x="235.25" y="388.84" width="8.85" height="8.85" fill="#fff" stroke="#000" stroke-width="2.1"/>
<rect x="279.53" y="424.3" width="8.85" height="8.85" fill="#fff" stroke="#000" stroke-width="2.1"/>
<rect x="317.94" y="450.71" width="8.85" height="8.85" fill="#fff" stroke="#000" stroke-width="2.1"/>
<rect x="363.83" y="473.34" width="8.85" height="8.85" fill="#fff" stroke="#000" stroke-width="2.1"/>
<rect x="413.71" y="500.12" width="8.85" height="8.85" fill="#fff" stroke="#000" stroke-width="2.1"/>
<rect x="466.26" y="494.84" width="8.85" height="8.85" fill="#fff" stroke="#000" stroke-width="2.1"/>
<rect x="496.4" y="507.14" width="8.85" height="8.85" fill="#fff" stroke="#000" stroke-width="2.1"/>
<rect x="502.96" y="507.14" width="8.85" height="8.85" fill="#fff" stroke="#000" stroke-width="2.1"/>
<rect x="521.21" y="516.72" width="8.85" height="8.85" fill="#fff" stroke="#000" stroke-width="2.1"/>
<line x1="228" y1="535.5" x2="396" y2="535.5" stroke="#0000ff" stroke-width="2.2" />
<polygon points="209,535.5 229,529.2 229,541.8" fill="#0000ff"/>
<polygon points="415,535.5 395,529.2 395,541.8" fill="#0000ff"/>
<line x1="485.1" y1="396.1" x2="509.3" y2="396.1" stroke="#ff0000" stroke-width="2.2" />
<polygon points="467.1,396.1 486.1,389.6 486.1,402.6" fill="#ff0000"/>
<polygon points="527.3,396.1 508.3,389.6 508.3,402.6" fill="#ff0000"/>
<text transform="translate(246.5 524) scale(0.945 1)" font-size="24.0" text-anchor="start" fill="#0000ff" ><tspan font-style="italic">P</tspan>=0.25-6 mW</text>
<text transform="translate(405.8 380.9) scale(0.945 1)" font-size="24.0" text-anchor="start" fill="#ff0000" ><tspan font-style="italic">P</tspan>=7-10 mW</text>
<text transform="translate(369.1 626.5) scale(0.974 1)" font-size="23.5" text-anchor="middle" fill="#000" >Pulse intensity, a.u.</text>
<text transform="translate(129.6 431.8) rotate(-90)" font-size="23.5" text-anchor="middle" fill="#000" >d<tspan font-style="italic">k,</tspan> &#956;m<tspan dy="-13.6" font-size="15">-1</tspan></text>
<text transform="translate(75.2 358.5)" font-size="34" text-anchor="start" fill="#000" font-weight="bold" >c</text>
<line x1="164.5" y1="675" x2="164.5" y2="765" stroke="#000" stroke-width="2.0" />
<polygon points="164.5,664 160.0,677.5 169.0,677.5" fill="#000"/>
<line x1="164.5" y1="764" x2="569" y2="764" stroke="#000" stroke-width="2.0" />
<polygon points="580,764 567,759.2 567,768.8" fill="#000"/>
<line x1="223.5" y1="764" x2="223.5" y2="863.2" stroke="#000" stroke-width="1.8" stroke-dasharray="8.6 4.45"/>
<line x1="270.7" y1="688.2" x2="270.7" y2="863.2" stroke="#000" stroke-width="1.8" stroke-dasharray="8.6 4.45" stroke-dashoffset="1.5"/>
<line x1="424.9" y1="688.2" x2="424.9" y2="863.2" stroke="#000" stroke-width="1.8" stroke-dasharray="8.6 4.45"/>
<line x1="474" y1="764" x2="474" y2="863.2" stroke="#000" stroke-width="1.8" stroke-dasharray="8.6 4.45"/>
<path d="M164.5 764 L223.5 764 L223.5 764 L224.48 763.98 L225.47 763.91 L226.45 763.8 L227.43 763.65 L228.42 763.47 L229.4 763.27 L230.38 762.86 L231.37 762.19 L232.35 761.33 L233.33 760.34 L234.32 759.28 L235.3 758 L236.28 756.46 L237.27 754.67 L238.25 752.63 L239.23 750.25 L240.22 747.12 L241.2 743.5 L242.18 739.67 L243.17 735.34 L244.15 731 L245.13 726.99 L246.12 723.05 L247.1 719.23 L248.08 715.46 L249.07 711.94 L250.05 708.88 L251.03 706.05 L252.02 703.46 L253 701.17 L253.98 699.2 L254.97 697.45 L255.95 695.95 L256.93 694.68 L257.92 693.54 L258.9 692.53 L259.88 691.68 L260.87 691.02 L261.85 690.43 L262.83 689.9 L263.82 689.44 L264.8 689.07 L265.78 688.79 L266.77 688.61 L267.75 688.45 L268.73 688.32 L269.72 688.23 L270.7 688.2 L424.9 688.2 L424.9 688.2 L425.92 688.23 L426.95 688.32 L427.97 688.45 L428.99 688.61 L430.01 688.79 L431.04 689.07 L432.06 689.44 L433.08 689.9 L434.11 690.43 L435.13 691.02 L436.15 691.68 L437.17 692.53 L438.2 693.54 L439.22 694.68 L440.24 695.95 L441.27 697.45 L442.29 699.2 L443.31 701.17 L444.34 703.46 L445.36 706.05 L446.38 708.88 L447.4 711.94 L448.43 715.46 L449.45 719.23 L450.47 723.05 L451.5 726.99 L452.52 731 L453.54 735.34 L454.56 739.67 L455.59 743.5 L456.61 747.12 L457.63 750.25 L458.66 752.63 L459.68 754.67 L460.7 756.46 L461.73 758 L462.75 759.28 L463.77 760.34 L464.79 761.33 L465.82 762.19 L466.84 762.86 L467.86 763.27 L468.89 763.47 L469.91 763.65 L470.93 763.8 L471.95 763.91 L472.98 763.98 L474 764 L530.8 764" fill="none" stroke="#ed7d1a" stroke-width="4.2" stroke-linecap="round" stroke-linejoin="round"/>
<text transform="translate(75.3 682)" font-size="33.3" text-anchor="start" fill="#000" font-weight="bold" >d</text>
<text transform="translate(149.2 680.8) rotate(-90)" font-size="25" text-anchor="middle" fill="#000" font-style="italic" stroke="#000" stroke-width="0.35">I(t)</text>
<text transform="translate(563.9 789.4)" font-size="23.5" text-anchor="middle" fill="#000" font-style="italic" stroke="#000" stroke-width="0.3">t</text>
<line x1="164.8" y1="799" x2="166.4" y2="935" stroke="#000" stroke-width="2.0" />
<polygon points="164.7,787.5 160.2,801 169.2,801" fill="#000"/>
<line x1="165.5" y1="863.2" x2="571" y2="863.2" stroke="#000" stroke-width="1.9" />
<polygon points="581.5,863.2 569,858.4 569,868" fill="#000"/>
<path d="M165.6 863.2 L225.9 863.2" fill="none" stroke="#ed7d1a" stroke-width="4.2" />
<path d="M270.7 863.2 L424.9 863.2" fill="none" stroke="#ed7d1a" stroke-width="4.2" />
<path d="M474 863.2 L534.3 863.2" fill="none" stroke="#ed7d1a" stroke-width="4.2" />
<path d="M225.7 863.2 L226.26 863.07 L226.82 862.87 L227.39 862.59 L227.95 862.25 L228.51 861.87 L229.07 861.45 L229.64 861 L230.2 860.53 L230.76 859.98 L231.32 859.32 L231.89 858.56 L232.45 857.7 L233.01 856.76 L233.57 855.67 L234.14 854.32 L234.7 852.8 L235.26 851.18 L235.82 849.44 L236.39 847.5 L236.95 845.37 L237.51 843.02 L238.07 840.49 L238.64 837.85 L239.2 835.17 L239.76 832.4 L240.32 829.52 L240.89 826.53 L241.45 823.37 L242.01 820.01 L242.57 816.69 L243.14 813.58 L243.7 810.52 L244.26 807.61 L244.82 805 L245.39 802.62 L245.95 800.54 L246.51 799.23 L247.07 798.18 L247.64 797.4 L248.2 797.1 L248.76 797.4 L249.32 798.18 L249.89 799.23 L250.45 800.54 L251.01 802.62 L251.57 805 L252.14 807.61 L252.7 810.52 L253.26 813.58 L253.82 816.69 L254.39 820.01 L254.95 823.37 L255.51 826.53 L256.07 829.52 L256.64 832.4 L257.2 835.17 L257.76 837.85 L258.32 840.49 L258.89 843.02 L259.45 845.37 L260.01 847.5 L260.57 849.44 L261.14 851.18 L261.7 852.8 L262.26 854.32 L262.82 855.67 L263.39 856.76 L263.95 857.7 L264.51 858.56 L265.07 859.32 L265.64 859.98 L266.2 860.53 L266.76 861 L267.32 861.45 L267.89 861.87 L268.45 862.25 L269.01 862.59 L269.57 862.87 L270.14 863.07 L270.7 863.2" fill="none" stroke="#0000ff" stroke-width="3.9" stroke-linejoin="round"/>
<path d="M425.9 863.2 L426.5 863.23 L427.1 863.33 L427.7 863.48 L428.29 863.68 L428.89 863.93 L429.49 864.22 L430.09 864.54 L430.69 864.9 L431.29 865.27 L431.89 865.67 L432.49 866.13 L433.08 866.77 L433.68 867.56 L434.28 868.48 L434.88 869.48 L435.48 870.62 L436.08 872.04 L436.68 873.67 L437.28 875.39 L437.88 877.27 L438.47 879.37 L439.07 881.7 L439.67 884.27 L440.27 887.02 L440.87 889.85 L441.47 892.74 L442.07 895.75 L442.66 898.89 L443.26 902.18 L443.86 905.72 L444.46 909.27 L445.06 912.59 L445.66 915.85 L446.26 918.93 L446.86 921.65 L447.45 924.17 L448.05 926.2 L448.65 927.45 L449.25 928.48 L449.85 929.11 L450.45 929.11 L451.05 928.48 L451.65 927.45 L452.25 926.2 L452.84 924.18 L453.44 921.66 L454.04 918.93 L454.64 915.85 L455.24 912.6 L455.84 909.28 L456.44 905.73 L457.04 902.19 L457.63 898.9 L458.23 895.76 L458.83 892.74 L459.43 889.85 L460.03 887.02 L460.63 884.28 L461.23 881.7 L461.82 879.38 L462.42 877.28 L463.02 875.39 L463.62 873.67 L464.22 872.05 L464.82 870.62 L465.42 869.49 L466.02 868.49 L466.62 867.58 L467.21 866.79 L467.81 866.15 L468.41 865.66 L469.01 865.24 L469.61 864.83 L470.21 864.45 L470.81 864.1 L471.41 863.8 L472 863.55 L472.6 863.36 L473.2 863.24 L473.8 863.2" fill="none" stroke="#ff0000" stroke-width="4.1" stroke-linejoin="round"/>
<text transform="translate(75.6 807.4)" font-size="34" text-anchor="start" fill="#000" font-weight="bold" >e</text>
<text transform="translate(151 806.8) rotate(-90)" font-size="25" text-anchor="middle" fill="#000" stroke="#000" stroke-width="0.35">&#969;<tspan font-style="italic">(t)</tspan></text>
<text transform="translate(138.3 870.6)" font-size="25" text-anchor="start" fill="#000" stroke="#000" stroke-width="0.25">&#969;<tspan dy="4.5" font-size="12.5">0</tspan></text>
<text transform="translate(562.9 888.6)" font-size="23.5" text-anchor="middle" fill="#000" font-style="italic" stroke="#000" stroke-width="0.3">t</text>
</svg>
</body></html>
